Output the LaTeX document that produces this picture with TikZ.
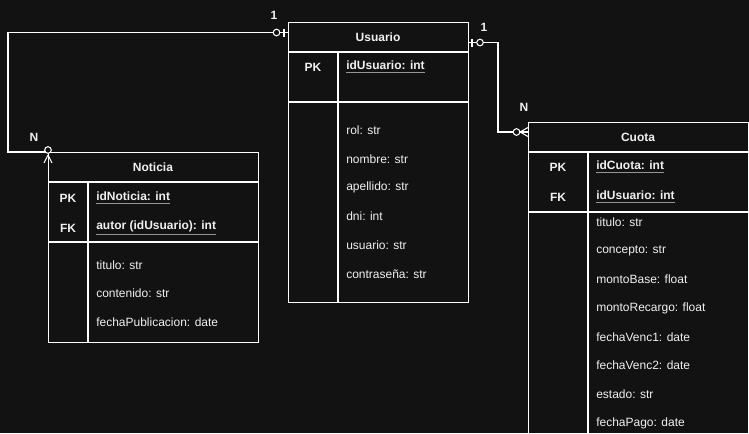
\documentclass[tikz,border=0pt]{standalone}
\usepackage{fontspec}
\setmainfont{Liberation Sans}
\usetikzlibrary{positioning,calc}
\definecolor{bgdark}{RGB}{18,18,18}
\definecolor{inkw}{RGB}{240,240,240}
\definecolor{ulgray}{RGB}{150,150,150}
\newcommand{\keyul}[1]{\leavevmode\rlap{\color{ulgray}\underline{\phantom{#1}}}#1}
\tikzset{%
  box/.style={draw=white, line width=0.8pt, anchor=north west, inner sep=0pt},
  title/.style={text=inkw, font=\fontsize{9}{11}\selectfont\bfseries},
  key/.style={text=inkw, font=\fontsize{9}{11}\selectfont\bfseries},
  attr/.style={text=inkw, anchor=west, inner sep=0pt, font=\fontsize{9}{11}\selectfont},
  keyattr/.style={attr, font=\fontsize{9}{11}\selectfont\bfseries},
  card/.style={text=inkw, font=\fontsize{9}{11}\selectfont\bfseries},
  rel/.style={draw=white, line width=0.8pt},
  ring/.style={draw=white, fill=bgdark, line width=0.8pt}
}
\begin{document}
\begin{tikzpicture}[x=0.75pt, y=-0.75pt]
  \fill[bgdark] (0,0) rectangle (749,433);
  \useasboundingbox (0,0) rectangle (749,433);
  \clip (0,0) rectangle (749,433);

  % Usuario
  \node[box, minimum width=135pt, minimum height=210pt] (usuario) at (288,22) {};
  \draw[rel] (288,52) -- (468,52);
  \draw[rel] (288,102) -- (468,102);
  \draw[rel] (338,52) -- (338,302);
  \node[title] (u-title) at (378,37) {Usuario};
  \node[key] (u-pk) at (313,67) {PK};
  \node[keyattr] (u-id) at (346,67) {\keyul{idUsuario: int}};
  \foreach \t [count=\i] in {rol: str, nombre: str, apellido: str, dni: int, usuario: str, contraseña: str}{%
    \node[attr] (u\i) at (346,{130+28.8*(\i-1)}) {\t};
  }

  % Noticia
  \node[box, minimum width=157.5pt, minimum height=142.5pt] (noticia) at (48,152) {};
  \draw[rel] (48,182) -- (258,182);
  \draw[rel] (48,242) -- (258,242);
  \draw[rel] (88,182) -- (88,342);
  \node[title] (n-title) at (153,167) {Noticia};
  \node[key] (n-pk) at (68,198) {PK};
  \node[key] (n-fk) at (68,228) {FK};
  \node[keyattr] (n-id) at (96,198) {\keyul{idNoticia: int}};
  \node[keyattr] (n-autor) at (96,228) {\keyul{autor (idUsuario): int}};
  \foreach \t [count=\i] in {titulo: str, contenido: str, fechaPublicacion: date}{%
    \node[attr] (n\i) at (96,{265+28.5*(\i-1)}) {\t};
  }

  % Cuota
  \node[box, minimum width=165pt, minimum height=260pt] (cuota) at (528,122) {};
  \draw[rel] (528,152) -- (748,152);
  \draw[rel] (528,212) -- (748,212);
  \draw[rel] (588,152) -- (588,460);
  \node[title] (c-title) at (638,137) {Cuota};
  \node[key] (c-pk) at (558,167) {PK};
  \node[key] (c-fk) at (558,197) {FK};
  \node[keyattr] (c-id) at (596,167) {\keyul{idCuota: int}};
  \node[keyattr] (c-usr) at (596,197) {\keyul{idUsuario: int}};
  \foreach \t [count=\i] in {titulo: str, concepto: str, montoBase: float, montoRecargo: float,
    fechaVenc1: date, fechaVenc2: date, estado: str, fechaPago: date}{%
    \node[attr] (c\i) at (596,{222+28.7*(\i-1)}) {\t};
  }

  % Usuario 1 -- N Noticia
  \coordinate (u-left) at (288,32.5);
  \coordinate (n-top) at (48,152);
  \coordinate (bend-l) at (8,32.5);
  \draw[rel] (u-left) -- (bend-l) |- (n-top);
  \draw[rel] (284,28.5) -- (284,36.5);
  \draw[ring] (276.5,32.5) circle (3.3);
  \draw[rel] (48,155) -- (44,163);
  \draw[rel] (48,155) -- (52,163);
  \draw[ring] (48,150) circle (3.3);
  \node[card] (card-u1) at (274,15) {1};
  \node[card] (card-n1) at (34,137) {N};

  % Usuario 1 -- N Cuota
  \coordinate (u-right) at (468,42.5);
  \coordinate (c-left) at (528,132);
  \coordinate (bend-r) at (498,42.5);
  \draw[rel] (u-right) -- (bend-r) |- (c-left);
  \draw[rel] (472,38.5) -- (472,46.5);
  \draw[ring] (480,42.5) circle (3.3);
  \draw[rel] (520,132) -- (528,127.5);
  \draw[rel] (520,132) -- (528,136.5);
  \draw[ring] (516.5,132) circle (3.3);
  \node[card] (card-u2) at (484,27) {1};
  \node[card] (card-n2) at (524,107) {N};
\end{tikzpicture}
\end{document}
